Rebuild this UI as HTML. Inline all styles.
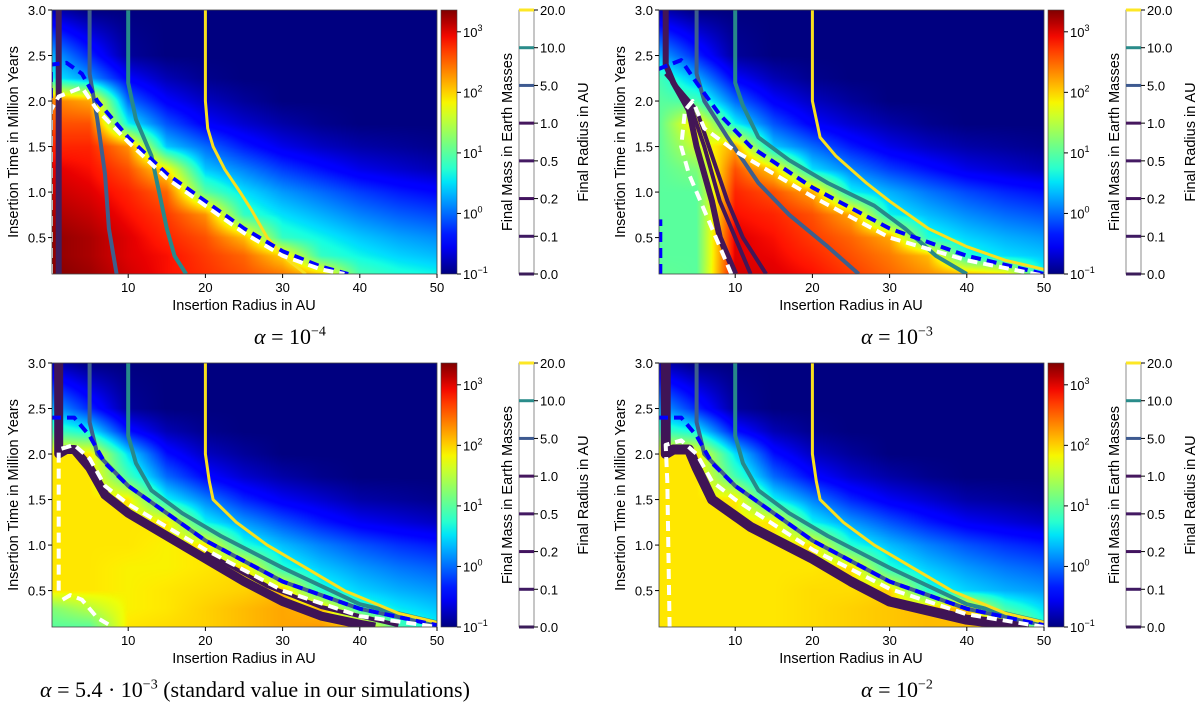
<!DOCTYPE html>
<html><head><meta charset="utf-8"><style>
body{margin:0;background:#fff;width:1200px;height:707px;overflow:hidden;position:relative;font-family:"Liberation Sans","DejaVu Sans",sans-serif;}
canvas,svg{position:absolute;}
.ttl{position:absolute;font-family:"Liberation Serif",serif;font-size:22px;white-space:nowrap;color:#000;}
</style></head><body>
<div class="ttl" style="left:254px;top:324px;"><i>α</i> = 10<sup style="font-size:14px">−4</sup></div>
<div class="ttl" style="left:861px;top:324px;"><i>α</i> = 10<sup style="font-size:14px">−3</sup></div>
<div class="ttl" style="left:40px;top:677px;"><i>α</i> = 5.4 · 10<sup style="font-size:14px">−3</sup> (standard value in our simulations)</div>
<div class="ttl" style="left:861px;top:677px;"><i>α</i> = 10<sup style="font-size:14px">−2</sup></div>
<script>
// grid columns (AU) and rows (Myr)
const radiusCols=[0,5,10,15,20,25,30,35,40,45,50];
const timeRows=[3.0,2.5,2.25,2.0,1.75,1.5,1.25,1.0,0.75,0.5,0.3,0.1];
// log10 final mass per panel
const massP1=[
[-0.8,-1,-1,-1,-1,-1,-1,-1,-1,-1,-1],
[0.3,-0.3,-0.9,-1,-1,-1,-1,-1,-1,-1,-1],
[0.6,0.2,-0.5,-0.8,-0.95,-1,-1,-1,-1,-1,-1],
[2.4,2.2,0.0,-0.5,-0.75,-0.9,-1,-1,-1,-1,-1],
[2.6,2.6,0.6,-0.1,-0.5,-0.7,-0.85,-0.95,-1,-1,-1],
[2.8,2.8,2.3,0.4,0.0,-0.35,-0.6,-0.75,-0.85,-0.9,-0.95],
[3.0,2.9,2.6,1.9,0.4,0.1,-0.2,-0.4,-0.6,-0.7,-0.8],
[3.1,3.0,2.8,2.5,1.0,0.5,0.2,0.0,-0.2,-0.35,-0.45],
[3.2,3.1,2.9,2.7,2.3,0.8,0.5,0.3,0.1,-0.05,-0.15],
[3.3,3.2,3.0,2.8,2.6,2.1,0.8,0.6,0.4,0.25,0.15],
[3.3,3.2,3.0,2.9,2.7,2.5,2.0,0.8,0.6,0.45,0.35],
[3.35,3.25,3.05,2.9,2.75,2.6,2.4,2.0,0.9,0.7,0.6]];
const massP2=[
[-0.8,-1,-1,-1,-1,-1,-1,-1,-1,-1,-1],
[0.3,-0.3,-0.9,-1,-1,-1,-1,-1,-1,-1,-1],
[0.9,0.3,-0.5,-0.8,-0.95,-1,-1,-1,-1,-1,-1],
[1.0,0.9,0.0,-0.5,-0.75,-0.9,-1,-1,-1,-1,-1],
[1.0,2.0,0.6,-0.1,-0.5,-0.7,-0.85,-0.95,-1,-1,-1],
[1.0,1.6,2.2,0.4,0.0,-0.35,-0.6,-0.75,-0.85,-0.9,-0.95],
[1.0,1.2,2.6,2.0,0.5,0.1,-0.2,-0.4,-0.6,-0.7,-0.8],
[1.0,1.0,2.8,2.6,2.2,0.6,0.3,0.05,-0.15,-0.3,-0.4],
[1.0,1.0,2.9,2.8,2.6,2.2,0.6,0.35,0.15,0.0,-0.1],
[1.0,1.0,3.0,2.9,2.7,2.5,2.2,0.7,0.45,0.3,0.2],
[1.0,1.0,3.0,2.95,2.8,2.6,2.4,2.1,0.7,0.5,0.4],
[1.05,1.0,3.05,3.0,2.9,2.7,2.5,2.3,2.1,1.9,0.6]];
const massP3=[
[-0.8,-1,-1,-1,-1,-1,-1,-1,-1,-1,-1],
[0.3,-0.3,-0.9,-1,-1,-1,-1,-1,-1,-1,-1],
[0.9,0.6,-0.4,-0.8,-0.95,-1,-1,-1,-1,-1,-1],
[1.9,1.9,0.5,-0.4,-0.75,-0.9,-1,-1,-1,-1,-1],
[1.9,1.9,0.9,0.0,-0.45,-0.7,-0.85,-0.95,-1,-1,-1],
[1.9,1.9,1.9,0.6,0.1,-0.3,-0.55,-0.7,-0.85,-0.9,-0.95],
[1.9,1.9,1.9,1.9,0.6,0.2,-0.1,-0.35,-0.55,-0.65,-0.75],
[1.9,1.9,1.9,1.85,1.9,0.7,0.35,0.1,-0.1,-0.25,-0.35],
[1.9,1.9,1.85,1.85,1.9,1.95,0.7,0.4,0.2,0.05,-0.05],
[1.9,1.9,1.85,1.9,1.95,2.0,2.1,0.7,0.45,0.3,0.2],
[1.2,1.5,1.85,1.9,2.0,2.1,2.2,2.1,0.8,0.55,0.4],
[1.0,1.0,1.9,1.95,2.0,2.1,2.2,2.25,2.1,0.9,0.6]];
const massP4=[
[-0.8,-1,-1,-1,-1,-1,-1,-1,-1,-1,-1],
[0.3,-0.3,-0.9,-1,-1,-1,-1,-1,-1,-1,-1],
[0.9,0.6,-0.4,-0.8,-0.95,-1,-1,-1,-1,-1,-1],
[1.9,1.9,0.5,-0.4,-0.75,-0.9,-1,-1,-1,-1,-1],
[1.9,1.9,0.9,0.0,-0.45,-0.7,-0.85,-0.95,-1,-1,-1],
[1.9,1.9,1.9,0.6,0.1,-0.3,-0.55,-0.7,-0.85,-0.9,-0.95],
[1.9,1.9,1.9,1.9,0.6,0.2,-0.1,-0.35,-0.55,-0.65,-0.75],
[1.9,1.9,1.9,1.9,1.9,0.7,0.35,0.1,-0.1,-0.25,-0.35],
[1.9,1.9,1.9,1.9,1.9,1.95,0.7,0.4,0.2,0.05,-0.05],
[1.9,1.9,1.9,1.9,1.95,1.95,2.0,0.7,0.45,0.3,0.2],
[1.9,1.9,1.9,1.9,1.95,2.0,2.05,2.1,2.1,0.9,0.5],
[1.9,1.9,1.9,1.9,1.95,2.0,2.05,2.1,2.1,2.0,0.7]];
// contour lines [x AU, t Myr]
const r20P1=[[20,3],[20,2.0],[20.3,1.7],[21,1.5],[22.5,1.25],[24.5,1.0],[26,0.8],[28,0.5],[30,0.3],[33,0.1]];
const r10P1=[[10,3],[10,2.2],[11,1.8],[13,1.4],[14,1.0],[15,0.6],[16,0.3],[17.5,0.1]];
const r5P1=[[5,3],[5,2.3],[6,1.8],[7,1.2],[7.5,0.6],[8.5,0.1]];
const r1P1=[[1,3],[1,0.1]];
const massDashP1=[[0,0.1],[0,2.4],[2,2.42],[4,2.3],[6,2.0],[10,1.6],[15,1.2],[20,0.9],[25,0.6],[30,0.35],[35,0.18],[38.5,0.1]];
const edgeDashP1=[[0,0.1],[0,1.9],[1,2.05],[4,2.15],[6,1.9],[10,1.55],[15,1.15],[20,0.85],[25,0.55],[30,0.3],[35,0.15],[38,0.1]];
const r20P2=[[20,3],[20,2.0],[21,1.6],[23,1.4],[27,1.1],[30,0.9],[35,0.6],[40,0.4],[45,0.25],[50,0.15]];
const r10P2=[[10,3],[10,2.2],[11,1.95],[13,1.6],[17,1.35],[22,1.1],[28,0.85],[32,0.6],[36,0.3],[40,0.1]];
const r5P2=[[5,3],[5,2.3],[6,2.0],[9,1.6],[13,1.1],[17,0.75],[22,0.4],[26,0.1]];
const r1P2=[[1,3],[1,2.4],[2,2.2],[4,1.9],[5,1.5],[7,0.9],[8,0.5],[10,0.1]];
const r05P2=[[1,2.3],[4,2.0],[6,1.5],[8,0.9],[10,0.5],[12,0.1]];
const r02P2=[[2,2.2],[5,1.9],[7,1.4],[9,0.9],[11,0.5],[14,0.1]];
const massDashP2=[[0.3,0.1],[0.3,0.7]];
const massDash2P2=[[0,2.35],[3,2.45],[5,2.2],[8,1.85],[12,1.5],[20,1.05],[30,0.6],[40,0.3],[50,0.1]];
const edgeDashP2=[[9.5,0.1],[8,0.4],[6,0.8],[4,1.2],[3,1.5],[3.5,1.9],[4.5,2.0],[6,1.7],[10,1.45],[20,0.95],[30,0.5],[40,0.25],[50,0.08]];
const r20P3=[[20,3],[20,2.0],[20.5,1.7],[21,1.5],[24,1.25],[28,1.0],[33,0.75],[38,0.5],[45,0.25],[50,0.15]];
const r10P3=[[10,3],[10,2.2],[11,1.9],[13,1.6],[17,1.35],[22,1.1],[30,0.75],[40,0.35],[50,0.15]];
const r5P3=[[5,3],[5,2.35],[6,2.0],[10,1.65],[15,1.35],[20,1.05],[30,0.6],[40,0.3],[50,0.12]];
const r1P3=[[1,3],[1,2.0],[2,2.05],[3,2.05],[5,1.85],[7,1.55],[10,1.35],[15,1.1],[20,0.85],[25,0.6],[30,0.38],[35,0.22],[40,0.13],[42,0.1]];
const r05P3=[[20,0.92],[28,0.55],[35,0.32],[45,0.12]];
const massDashP3=[[0,2.4],[3,2.4],[5,2.2],[7,1.9],[10,1.65],[20,1.05],[30,0.6],[40,0.3],[50,0.12]];
const edgeDashP3=[[1,0.5],[1,2.05],[3,2.1],[5,1.95],[7,1.65],[10,1.45],[20,0.95],[30,0.5],[40,0.22],[50,0.1]];
const edge2DashP3=[[1.5,0.4],[2.5,0.45],[4,0.4],[6,0.2],[8,0.1]];
const r20P4=[[20,3],[20,2.0],[20.5,1.7],[21,1.5],[24,1.25],[28,1.0],[33,0.75],[38,0.5],[45,0.25],[50,0.15]];
const r10P4=[[10,3],[10,2.2],[11,1.9],[13,1.6],[17,1.35],[22,1.1],[30,0.75],[40,0.35],[50,0.15]];
const r5P4=[[5,3],[5,2.35],[6,2.0],[10,1.65],[15,1.35],[20,1.05],[30,0.6],[40,0.3],[50,0.12]];
const r1P4=[[1,3],[1,2.0],[2,2.05],[4,2.05],[5,1.85],[7,1.5],[12,1.2],[20,0.85],[25,0.6],[30,0.38],[40,0.18],[48,0.1]];
const massDashP4=[[0,2.4],[3,2.4],[5,2.2],[7,1.9],[10,1.65],[20,1.05],[30,0.6],[40,0.3],[50,0.12]];
const edgeDashP4=[[1.5,0.1],[1.2,1.7],[1,2.1],[3,2.15],[5,2.0],[7,1.7],[10,1.5],[20,0.95],[30,0.52],[40,0.24],[50,0.1]];
const yTicks=[3.0,2.5,2.0,1.5,1.0,0.5];
const xTicks=[10,20,30,40,50];
const massTicks=[3,2,1,0,-1];
const radiusTicks=["0.0","0.1","0.2","0.5","1.0","5.0","10.0","20.0"];
const radiusTickColors=["#3b1c5a","#3f1a62","#42145f","#441a63","#46185e","#3e5a90","#2a8c8a","#fde725"];

const panels=[
 {dx:0,dy:0,mass:massP1,lines:[[r1P1,"#3f1d5c",6],[r5P1,"#3e5f8c",4],[r10P1,"#27898a",4],[r20P1,"#f9e01e",3]],blue:[massDashP1],white:[edgeDashP1]},
 {dx:607,dy:0,mass:massP2,lines:[[r1P2,"#431656",6],[r05P2,"#431656",4],[r02P2,"#431656",4],[r5P2,"#3e5f8c",4],[r10P2,"#27898a",4],[r20P2,"#f9e01e",3]],blue:[massDashP2,massDash2P2],white:[edgeDashP2]},
 {dx:0,dy:353,mass:massP3,lines:[[r1P3,"#3f1456",9],[r05P3,"#3f1456",4],[r5P3,"#3e5f8c",4],[r10P3,"#27898a",4],[r20P3,"#f9e01e",3]],blue:[massDashP3],white:[edgeDashP3,edge2DashP3]},
 {dx:607,dy:353,mass:massP4,lines:[[r1P4,"#3f1456",10],[r5P4,"#3e5f8c",4],[r10P4,"#27898a",4],[r20P4,"#f9e01e",3]],blue:[massDashP4],white:[edgeDashP4]}
];
const VMIN=-1,VMAX=3.36;
const jr=[[0,0],[0.35,0],[0.66,1],[0.89,1],[1,0.5]];
const jg=[[0,0],[0.125,0],[0.375,1],[0.64,1],[0.91,0],[1,0]];
const jb=[[0,0.5],[0.11,1],[0.34,1],[0.65,0],[1,0]];
function seg(a,t){for(let i=1;i<a.length;i++){if(t<=a[i][0]){const f=(t-a[i-1][0])/(a[i][0]-a[i-1][0]);return a[i-1][1]+f*(a[i][1]-a[i-1][1]);}}return a[a.length-1][1];}
function jet(v){let t=(v-VMIN)/(VMAX-VMIN);t=Math.max(0,Math.min(1,t));return [seg(jr,t)*255,seg(jg,t)*255,seg(jb,t)*255];}
const L=51,R=437,T=10,B=274,PL=52;
const sx=x=>L+(x-0)*(R-L)/50;
const sy=t=>T+(3-t)*(B-T)/2.9;
function interp(mass,x,t){
 let ci=Math.min(9,Math.max(0,Math.floor(x/5)));let fx=(x-radiusCols[ci])/5;
 let ri=0;while(ri<timeRows.length-2&&t<timeRows[ri+1])ri++;
 let fy=(timeRows[ri]-t)/(timeRows[ri]-timeRows[ri+1]);fy=Math.max(0,Math.min(1,fy));fx=Math.max(0,Math.min(1,fx));
 const a=mass[ri][ci],b=mass[ri][ci+1],c=mass[ri+1][ci],d=mass[ri+1][ci+1];
 return a*(1-fx)*(1-fy)+b*fx*(1-fy)+c*(1-fx)*fy+d*fx*fy;}
const NS="http://www.w3.org/2000/svg";
function el(tag,attrs,parent){const e=document.createElementNS(NS,tag);for(const k in attrs)e.setAttribute(k,attrs[k]);parent.appendChild(e);return e;}
function txt(parent,x,y,s,size,anchor,rot){const e=el("text",{x:x,y:y,"font-size":size,"text-anchor":anchor||"middle","font-family":"Liberation Sans, DejaVu Sans, sans-serif",fill:"#000"},parent);if(rot)e.setAttribute("transform","rotate(-90 "+x+" "+y+")");e.textContent=s;return e;}
panels.forEach((p,i)=>{
 const cv=document.createElement("canvas");cv.width=R-PL;cv.height=B-T;
 cv.style.left=(p.dx+PL)+"px";cv.style.top=(p.dy+T)+"px";
 
 
 document.body.appendChild(cv);
 const ctx=cv.getContext("2d");const img=ctx.createImageData(cv.width,cv.height);
 for(let py=0;py<cv.height;py++){const t=3-(py+0.5)*2.9/(B-T);
  for(let px=0;px<cv.width;px++){const x=(PL+px+0.5-L)*50/(R-L);
   const col=jet(interp(p.mass,x,t));const k=(py*cv.width+px)*4;
   img.data[k]=col[0];img.data[k+1]=col[1];img.data[k+2]=col[2];img.data[k+3]=255;}}
 ctx.putImageData(img,0,0);
 const svg=document.createElementNS(NS,"svg");svg.setAttribute("width",600);svg.setAttribute("height",354);
 svg.style.left=p.dx+"px";svg.style.top=p.dy+"px";
 
 
 document.body.appendChild(svg);
 el("clipPath",{id:"clip"+i},svg).appendChild(document.createElementNS(NS,"rect"));
 const cr=svg.querySelector("#clip"+i+" rect");cr.setAttribute("x",PL);cr.setAttribute("y",T);cr.setAttribute("width",R-PL);cr.setAttribute("height",B-T);
 const g=el("g",{"clip-path":"url(#clip"+i+")"},svg);
 const pts=a=>a.map(q=>sx(q[0]).toFixed(1)+","+sy(q[1]).toFixed(1)).join(" ");
 p.lines.forEach((ln,j)=>{const e=el("polyline",{points:pts(ln[0]),fill:"none",stroke:ln[1],"stroke-width":ln[2],"stroke-linejoin":"round"},g);
  
  });
 p.blue.forEach(bl=>{const b=el("polyline",{points:pts(bl),fill:"none",stroke:"#0000ff","stroke-width":4,"stroke-dasharray":"10,6","stroke-linejoin":"round"},g);
  
  });
 p.white.forEach(wl=>{const w=el("polyline",{points:pts(wl),fill:"none",stroke:"#fff","stroke-width":4,"stroke-dasharray":"10,6","stroke-linejoin":"round"},g);
  
  });
 el("rect",{x:PL,y:T,width:R-PL,height:B-T,fill:"none",stroke:"#444","stroke-width":0.8},svg);
 yTicks.forEach(v=>{el("line",{x1:PL-4,x2:PL,y1:sy(v),y2:sy(v),stroke:"#000"},svg);txt(svg,PL-6,sy(v)+5,v.toFixed(1),13,"end");});
 xTicks.forEach(v=>{el("line",{x1:sx(v),x2:sx(v),y1:B,y2:B+4,stroke:"#000"},svg);txt(svg,sx(v),B+18,String(v),13);});
 const yl=txt(svg,18,142,"Insertion Time in Million Years",14.5,"middle",true);
 
 
 const xl=txt(svg,244,310,"Insertion Radius in AU",14.5);
 
 
 const gid="jg"+i;const lg=el("linearGradient",{id:gid,x1:0,y1:1,x2:0,y2:0},el("defs",{},svg));
 for(let s=0;s<=20;s++){const c=jet(VMIN+s/20*(VMAX-VMIN));el("stop",{offset:s/20,"stop-color":"rgb("+c.map(Math.round).join(",")+")"},lg);}
 const cb=el("rect",{x:441,y:T,width:16,height:B-T,fill:"url(#"+gid+")",stroke:"#444","stroke-width":0.6},svg);
 
 
 const cy=v=>B-(v-VMIN)*(B-T)/(VMAX-VMIN);
 massTicks.forEach(v=>{el("line",{x1:457,x2:461,y1:cy(v),y2:cy(v),stroke:"#000"},svg);
  const t=txt(svg,463,cy(v)+5,"10",13,"start");const s=el("tspan",{dy:-6,"font-size":9},t);s.textContent=String(v).replace("-","−");});
 txt(svg,512,142,"Final Mass in Earth Masses",14.5,"middle",true);
 const cb2=el("rect",{x:519,y:T,width:15,height:B-T,fill:"#fff",stroke:"#444","stroke-width":0.6},svg);
 
 
 radiusTicks.forEach((s,k)=>{const y=B-k*(B-T)/7;el("line",{x1:519,x2:534,y1:y,y2:y,stroke:radiusTickColors[k],"stroke-width":3},svg);
  el("line",{x1:534,x2:538,y1:y,y2:y,stroke:"#000"},svg);txt(svg,540,y+5,s,13,"start");});
 txt(svg,588,142,"Final Radius in AU",14.5,"middle",true);
});
</script>
</body></html>
